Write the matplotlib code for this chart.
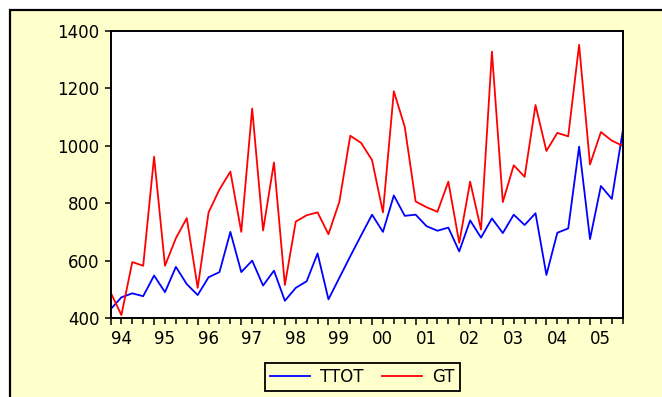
import numpy as np
import matplotlib.pyplot as plt
from matplotlib.patches import Rectangle
from matplotlib.transforms import ScaledTranslation

# quarterly series 1994Q1 - 2005Q4
ttot = [430, 472, 486, 476, 548, 490, 578, 518, 480, 542, 560, 700,
        560, 600, 513, 565, 460, 505, 528, 625, 465, 540, 615, 688,
        760, 700, 827, 756, 760, 720, 704, 715, 632, 740, 680, 747,
        696, 760, 724, 765, 550, 697, 712, 997, 675, 860, 815, 1050]
gt = [490, 410, 595, 582, 962, 582, 678, 748, 505, 768, 848, 910,
      700, 1130, 705, 942, 515, 736, 758, 768, 692, 805, 1035, 1010,
      950, 768, 1190, 1066, 806, 786, 770, 875, 662, 875, 708, 1328,
      804, 932, 892, 1142, 982, 1045, 1033, 1352, 935, 1048, 1018, 1000]
years = ['94', '95', '96', '97', '98', '99', '00', '01', '02', '03', '04', '05']
yticks = [400, 600, 800, 1000, 1200, 1400]

bg = '#FFFFCC'
plt.rcParams['font.family'] = 'DejaVu Sans'

fig = plt.figure(figsize=(6.62, 3.97), dpi=100, facecolor='white')
# yellow panel with black top/left border
fig.patches.append(Rectangle((9.5 / 662, -0.2), 1.2, 1.2 - 9.5 / 397,
                             transform=fig.transFigure, facecolor=bg,
                             edgecolor='black', linewidth=1.6, zorder=-10))

ax = fig.add_axes([110.5 / 662, 1 - 318 / 397, (622.7 - 110.5) / 662, (318 - 31) / 397])
ax.set_zorder(1)
ax.set_facecolor('white')

x = np.arange(len(ttot))
ax.plot(x, ttot, color='#0000FF', linewidth=1.3, label='TTOT')
ax.plot(x, gt, color='#FF0000', linewidth=1.3, label='GT')

ax.set_xlim(0, len(ttot) - 1)
ax.set_ylim(400, 1400)
ax.set_yticks(yticks)
ax.set_yticklabels([str(v) for v in yticks])
ax.set_xticks(np.arange(0, len(ttot), 4))
ax.set_xticklabels(years, ha='left')
ax.set_xticks(x, minor=True)

offset = ScaledTranslation(3 / 100, 0, fig.dpi_scale_trans)
for lab in ax.get_xticklabels():
    lab.set_transform(lab.get_transform() + offset)

ax.tick_params(axis='both', which='both', direction='out', color='black',
               labelsize=12, width=1.1)
ax.tick_params(axis='x', which='major', length=5, pad=3.5)
ax.tick_params(axis='x', which='minor', length=4)
ax.tick_params(axis='y', length=4, pad=4)
for s in ax.spines.values():
    s.set_linewidth(1.4)
    s.set_color('black')

leg = fig.legend(loc='center', bbox_to_anchor=(362.5 / 662, 1 - 376.5 / 397),
                 ncol=2, frameon=True, fancybox=False, fontsize=12,
                 handlelength=2.4, handletextpad=0.6, columnspacing=1.1,
                 borderpad=0.3, facecolor=bg, edgecolor='black')
leg.get_frame().set_linewidth(1.3)
leg.get_frame().set_alpha(1)

fig.savefig('out.png', dpi=100, facecolor='white')
